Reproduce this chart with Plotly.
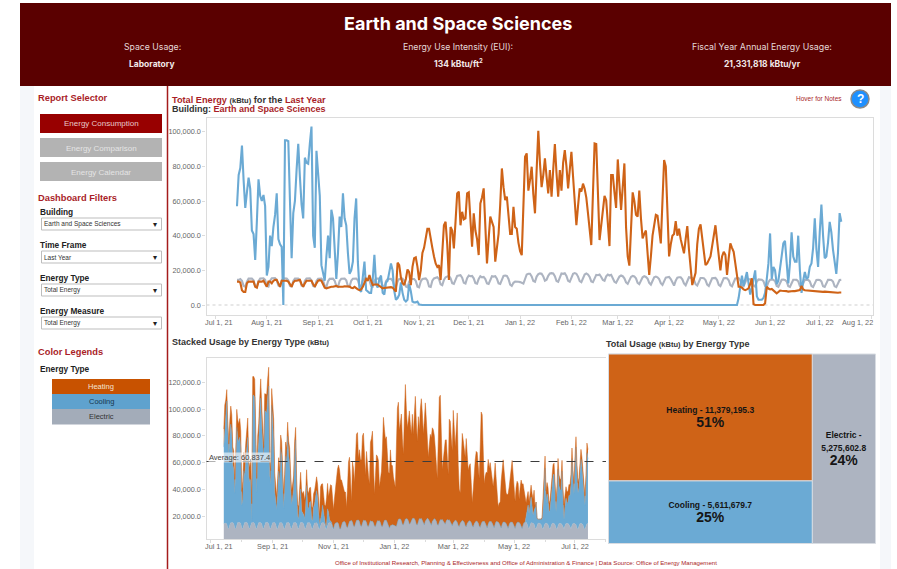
import pandas as pd
import plotly.graph_objects as go

START_DATE = "2021-07-14"

# daily readings, thousands of kBtu
cooling = [
57,75,79,92,72,56,65,73.5,67,43,41,26,48,72.5,63,60,63.5,57,17,22,
40,34,45,52,64.5,38,35,33.5,0,95,95,94.5,60,27,53,60,78,93,74,58,
50,85,82,81.5,93,103,40,33,89,75,63,23,18,14,28,40,27,55,50,30,
15,30,51,45,64.5,50,46,30,18,20,25,50,61.5,25,9,7.5,17,25,8.6,7.5,
7,7,15,29,12,10,15,17,7,6,13,14,19,24,20,8,3,4,6,13,
7,3,2,3,12,8,2,1.5,1.5,2,0.3,
0,0,0,0,0,0,0,0,0,0,0,0,0,0,0,0,0,0,0,0,
0,0,0,0,0,0,0,0,0,0,0,0,0,0,0,0,0,0,0,0,
0,0,0,0,0,0,0,0,0,0,0,0,0,0,0,0,0,0,0,0,
0,0,0,0,0,0,0,0,0,0,0,0,0,0,0,0,0,0,0,0,
0,0,0,0,0,0,0,0,0,0,0,0,0,0,0,0,0,0,0,0,
0,0,0,0,0,0,0,0,0,0,0,0,0,0,0,0,0,0,0,0,
0,0,0,0,0,0,0,0,0,0,0,0,0,0,0,0,0,0,0,0,
0,0,0,0,0,0,0,0,0,0,0,0,0,0,0,0,0,0,0,0,
0,0,0,0,0,0,0,0,0,0,0,0,0,0,0,0,0,0,0,0,
0,0,0,0,0,0,0,0,0,0,0,0,
4,10,17,11,16,19,12.5,6,10,15,20,5,3,3,3,4,7,15,24,41.3,
15,22,20,12,14,21,28,35.5,37,24,12.5,24,42,28,25,25,40,20,7,14,
19,15,16,22,24,33,50,32,22,42,58,40,27,28,36,48,42,32,25,18,
30,53,48,
]

heating = [
13.5,13.5,13,8.5,7.5,7.5,12.5,13.5,13.5,13.5,13.5,10.5,10,13.5,13.5,13.5,14,12,10.5,13.5,
13.5,12.5,14,14.5,14.5,12.5,10.5,14,14,14,14,13.5,11.5,10.5,13,14,14,14.3,14.5,12,
10.5,12.5,14,14,14,14,12,10.5,12.5,14,14.3,14,12,10,9.6,10,10.5,10.5,10.5,10.8,
11,10.5,10.5,10.3,10.5,10.8,10.8,10.7,10.6,10,9.8,10.5,9.5,9,8.6,9,10.5,12.5,15,14,
17.3,14,11.5,11.8,12,11.8,11,10.5,9.6,9.8,10,10.2,10,10.3,10,9,7.7,24.4,23,16,
12.5,11.5,15,20.5,19,11.5,22,27,27.5,22,14.4,20,30,33,40,44,44,37,33,28,
24,22,23,14.4,30,46,48,35,14.4,45,43,32.7,48,64.4,65.4,46,53.8,49.4,50,64.4,
65,50,33.6,52.9,43,38,28.8,58.6,62,67.3,45,24,38,51,48,45,25,33,41,58,
78.8,68,60.5,62.5,52,41,41,56.7,45,44,36,31,28.8,60,85.5,87.5,66,72,79.8,64,
52.9,78,100.5,82,68,75,84.6,74,64.4,77.9,62.5,78,92.9,76,62.5,77.9,66,82,89.4,80,
67.3,78,88.4,74,60,46,57,67.3,65.4,70,67,62,53,44,34.6,64,93.2,92.9,65,37.5,
46,55,62.9,60.5,47,34,75,75,65,56,84,68,54.8,68,81.7,45,28,22.7,46,65,
60,52,51,66,50,38.4,41,43,30,17.3,28,40,46,52,51.5,43,35.5,60,83.6,80,
52,28,35,40,41,48.4,40,44,38,33,29.8,38,45.5,32,20,11.5,15,18.6,35,44,
46.5,38,30,23,24,26,28,34,40,46,37,28,20,28,30.7,29,17.3,27,35.5,33,
30.7,24,17,10.5,10.5,10,9,8.6,9,9.6,12,15.4,0.5,0,0,0,0,0,0,1,
10.5,9.5,9,9.3,8.5,7.5,6.7,7.5,8.3,8.2,8.2,8.1,8,7.7,7.9,8,8.1,8,8.2,8,
8.6,11,9,8.5,8.4,8.3,8.2,8.1,8,7.9,7.7,7.8,7.9,7.7,7.6,7.7,7.6,7.5,7.4,7.2,
7.1,7.2,7,7.1,7.2,7.2,
]

electric = [
14.6,14.5,15,14,11,10.5,13.5,15.2, 15.2,15.3,14.2,11,10.5,13.8,15.3, 15.3,15.4,14.5,11,10.6,14,15.4,
15.4,15.5,14.3,11.2,10.8,14,15.4, 15.2,15.3,14.2,11,10.7,13.9,15.2, 15.3,15.2,14.4,11.1,10.8,14,15.3,
15.3,15.4,14.2,11,10.6,13.8,15.2, 15.2,15.3,14.1,10.9,10.5,13.7,15.1, 15.1,15.2,14,11,10.5,13.9,15.1,
15.2,15.3,14.2,11,10.6,14,15.2, 15.2,15.3,14.3,11.1,10.7,14,15.3, 15.3,15.2,14.2,11,10.6,13.9,15.2,
15.1,15.2,14,10.9,10.4,13.7,15, 15,15.1,14,10.8,10.3,13.6,15, 15.2,15.2,14,10.7,10.2,13.5,15,
15.1,15,13.9,10.6,10.2,13.6,15, 15.2,15.3,14.2,10.7,10.4,14,15.3, 15.8,16,15,12,11.4,14.5,16,
16.5,16.8,15.5,12.6,12.2,15,16.8, 17,17.2,15.8,12.8,12.4,15.5,17, 16.6,16.8,15.4,12.6,12.3,15,16.6,
16,16.2,15,12.5,12.2,14.8,16.6, 16.4,16.6,15.2,12.5,12.2,15,16.8,
17,16.8,15,11.8,11,12.8,13.5, 13.6,13.4,13.2,12.6,12.4,15,17.6,
18,18,16.5,13.8,13.4,16.4,17.8, 18.2,18,16.5,14,14.6,16.8,18.2, 18.4,18.2,16.6,13.8,13.4,16.4,18.2,
18,18.3,16.8,14,13.4,16.2,18, 18.4,18,16.4,13.8,13.2,16,17.6, 18.2,17.6,16.2,13.6,13.2,15.5,17.4,
17.2,17.6,16.2,14.4,14,16.5,17.5, 17,17.4,15.8,13.4,12.8,15,16.4, 17,16.6,15.4,13,12.2,14.8,16.2,
16.8,16.5,15.4,12.8,12,14.6,16, 16.6,16.2,15.2,12.8,11.8,14.4,16,
16.4,16,15,12.6,11.6,14.2,15.8, 16,16.2,15,12.8,11.2,14,15.8, 16,16,14.8,12.4,11.4,14.2,16,
15.8,15.6,14.6,12,11.2,13.8,15.6, 15.6,15.4,14.4,11.8,11,13.6,15.4, 15.5,15.6,14.4,11.6,10.9,13.6,15.4,
15.5,15.4,14.3,11.5,10.8,13.5,15.3,
15.4,15.5,14.2,11.4,10.8,13.5,15.2, 14.9,14.8,14,11.2,10.6,13.4,14.8, 14.8,14.6,13.8,11,10.5,13.2,14.6,
14.7,14.6,13.7,11,10.5,13.1,14.6, 14.7,14.5,13.6,10.9,10.5,13.1,14.6, 14.6,14.5,13.7,11,10.4,13,14.5,
14.6,14.5,13.6,11,10.4,13,14.5, 14.6,14.4,13.6,10.8,10.4,13,14.5, 14.5,14.4,13.5,10.8,10.3,13,14.4,
14.5,
]

dates = pd.date_range(START_DATE, periods=len(cooling), freq="D")

energy_types = ["Heating", "Cooling", "Electric"]
totals = [11379195.3, 5611679.7, 5275602.8]
shares = ["51%", "25%", "24%"]
average_usage = 60837.4

top_tick_dates = ["2021-07-01","2021-08-01","2021-09-01","2021-10-01","2021-11-01","2021-12-01","2022-01-01",
                  "2022-02-01","2022-03-01","2022-04-01","2022-05-01","2022-06-01","2022-07-01","2022-08-01"]
top_tick_labels = ["","Aug 1, 21","Sep 1, 21","Oct 1, 21","Nov 1, 21","Dec 1, 21","Jan 1, 22",
                   "Feb 1, 22","Mar 1, 22","Apr 1, 22","May 1, 22","Jun 1, 22","Jul 1, 22",""]
low_tick_dates = ["2021-07-01","2021-09-01","2021-11-01","2022-01-01","2022-03-01","2022-05-01","2022-07-01"]
low_tick_labels = ["","Sep 1, 21","Nov 1, 21","Jan 1, 22","Mar 1, 22","May 1, 22","Jul 1, 22"]
low_minor_dates = ["2021-08-01","2021-10-01","2021-12-01","2022-02-01","2022-04-01","2022-06-01","2022-08-01"]
top_y_ticks = [0, 20000, 40000, 60000, 80000, 100000]
low_y_ticks = [20000, 40000, 60000, 80000, 100000, 120000]

# styling
W, H = 897, 569
ORANGE, BLUE, GREY = "#cf6317", "#6baad4", "#adb4c1"
RED = "#a91e28"
SANS = "Liberation Sans"
HEAD = "Inter"
AXC = "#dcdcdc"
TICK = "#666666"
TICK_SIZE = 7.3


def px(x):
    return x / W


def py(y):
    return 1 - y / H


fig = go.Figure()

shapes = []
ann = []


def rect(x0, y0, x1, y1, fill, line=None, lw=1):
    shapes.append(dict(type="rect", xref="paper", yref="paper", x0=px(x0), x1=px(x1),
                       y0=py(y0), y1=py(y1), fillcolor=fill, layer="below",
                       line=dict(color=line or fill, width=lw if line else 0)))


def text(x, y, s, size=9, color="#222222", anchor="left", bold=False, family=SANS):
    ann.append(dict(xref="paper", yref="paper", x=px(x), y=py(y), text=f"<b>{s}</b>" if bold else s,
                    showarrow=False, xanchor=anchor, yanchor="middle",
                    font=dict(size=size, color=color, family=family),
                    borderpad=0, borderwidth=0))


# page
rect(20, 86, 34, H, "#f5f7fa")
rect(880, 86, 891, H, "#f5f7fa")
rect(20, 3, 891, 86, "#5a0000")
shapes.append(dict(type="line", xref="paper", yref="paper", x0=px(167.5), x1=px(167.5), y0=py(86), y1=0,
                   line=dict(color="#a51c1c", width=1.5), layer="below"))

# header
text(458, 23, "Earth and Space Sciences", 18, "#ffffff", "center", True, HEAD)
text(152, 47, "Space Usage:", 8.7, "#e4d8d8", "center", False, HEAD)
text(152, 63.5, "Laboratory", 8.5, "#f2e8e8", "center", True, HEAD)
text(458, 47, "Energy Use Intensity (EUI):", 8.7, "#e4d8d8", "center", False, HEAD)
text(458, 63, "134 kBtu/ft<sup>2</sup>", 8.5, "#f2e8e8", "center", True, HEAD)
text(762, 47, "Fiscal Year Annual Energy Usage:", 8.8, "#e4d8d8", "center", False, HEAD)
text(762, 63.5, "21,331,818 kBtu/yr", 8.5, "#f2e8e8", "center", True, HEAD)

# sidebar
text(38, 98, "Report Selector", 9.3, RED, bold=True)
rect(40, 114, 162, 133, "#980000")
rect(40, 138, 162, 157, "#b3b3b3")
rect(40, 162, 162, 181, "#b3b3b3")
text(101, 124, "Energy Consumption", 8, "#e8c8c8", "center")
text(101, 148, "Energy Comparison", 8, "#e4e4e4", "center")
text(101, 172, "Energy Calendar", 8, "#e4e4e4", "center")
text(38, 198, "Dashboard Filters", 9.3, RED, bold=True)
filters = [("Building", "Earth and Space Sciences", 212), ("Time Frame", "Last Year", 245),
           ("Energy Type", "Total Energy", 278), ("Energy Measure", "Total Energy", 311)]
for name, val, y in filters:
    text(40, y, name, 8.3, "#222222", bold=True)
    rect(41.5, y + 6, 161.5, y + 18, "#ffffff", "#bdbdbd", 1)
    text(43.5, y + 12, val, 6.5, "#333333")
    text(155, y + 12, "▾", 8, "#222222", "center")
text(38, 352, "Color Legends", 9.3, RED, bold=True)
text(40, 369, "Energy Type", 8.3, "#222222", bold=True)
rect(52, 379, 150, 394, "#c85200")
rect(52, 394, 150, 409, "#5fa2ce")
rect(52, 409, 150, 424.5, "#a3acb9")
text(101, 386.5, "Heating", 7.5, "#f4e4d4", "center")
text(101, 401.5, "Cooling", 7.5, "#17374f", "center")
text(101, 416.5, "Electric", 7.5, "#333333", "center")


# titles
def red(s):
    return f'<span style="color:{RED}">{s}</span>'


text(172, 99.5, f"{red('Total Energy')} <span style='font-size:7.5px'>(kBtu)</span> for the {red('Last Year')}", 9.2, "#333333", bold=True)
text(172, 109, f"Building: {red('Earth and Space Sciences')}", 9, "#333333", bold=True)
text(842, 99, "Hover for Notes", 6.5, RED, "right")
shapes.append(dict(type="circle", xref="paper", yref="paper", x0=px(851), x1=px(869), y0=py(108), y1=py(90),
                   fillcolor="#1e90ff", line=dict(color="#8a8a8a", width=1.5)))
text(860, 99, "?", 12, "#ffffff", "center", True)
text(172, 342, "Stacked Usage by Energy Type <span style='font-size:7.5px'>(kBtu)</span>", 9, "#333333", bold=True)
text(606, 344, "Total Usage <span style='font-size:7.5px'>(kBtu)</span> by Energy Type", 9, "#333333", bold=True)
text(525.5, 562.5, "Office of Institutional Research, Planning &amp; Effectiveness and Office of Administration &amp; Finance | Data Source: Office of Energy Management", 6.1, RED, "center")


def kbtu(series):
    return [v * 1000 for v in series]


# line chart
for name, series, col in [("Electric", electric, GREY), ("Cooling", cooling, BLUE), ("Heating", heating, ORANGE)]:
    fig.add_trace(go.Scatter(x=dates, y=kbtu(series), name=name, mode="lines",
                             line=dict(color=col, width=2.1), xaxis="x", yaxis="y"))

# stacked chart
for name, series, col in [("Electric", electric, GREY), ("Cooling", cooling, BLUE), ("Heating", heating, ORANGE)]:
    fig.add_trace(go.Scatter(x=dates, y=kbtu(series), name=name, mode="lines", stackgroup="one",
                             fillcolor=col, line=dict(color=col, width=0.5), xaxis="x2", yaxis="y2"))


# treemap: Heating and Cooling share the left column, Electric takes the right one
def cell_text(lines, share):
    body = "<br>".join(f"<span style='font-size:8.5px'><b>{s}</b></span>" for s in lines)
    return f"{body}<br><span style='font-size:14px'><b>{share}</b></span>"


GROUP = "Heating and Cooling"
labels_txt = [
    "",
    cell_text([f"{energy_types[0]} - {totals[0]:,.1f}"], shares[0]),
    cell_text([f"{energy_types[1]} - {totals[1]:,.1f}"], shares[1]),
    cell_text([f"{energy_types[2]} -", f"{totals[2]:,.1f}"], shares[2]),
]
fig.add_trace(go.Treemap(
    labels=[GROUP] + energy_types, parents=["", GROUP, GROUP, ""], values=[0] + totals, text=labels_txt,
    textinfo="text", textposition="middle center", sort=True, branchvalues="remainder",
    marker=dict(colors=["#d8dce2", ORANGE, BLUE, GREY], line=dict(color="#d8dce2", width=1),
                pad=dict(t=0, l=0, r=0, b=0)),
    textfont=dict(family=SANS, size=10.5, color="#151515"), hoverinfo="label+value",
    pathbar=dict(visible=False), tiling=dict(pad=0, packing="slice-dice"),
    domain=dict(x=[px(608.5), px(875.5)], y=[py(543.5), py(354)]),
))

axis_common = dict(showgrid=False, zeroline=False, showline=True, mirror=True, linecolor=AXC, linewidth=1.3,
                   ticks="outside", ticklen=3, tickwidth=1, tickcolor=AXC,
                   tickfont=dict(family=SANS, size=TICK_SIZE, color=TICK))

# y frames: top 118..315, bottom 358..539
top_y_range = [-5770, 107900]
low_y_range = [3000, 138100]
shapes.append(dict(type="line", xref="x domain", yref="y", x0=0, x1=1, y0=0, y1=0,
                   line=dict(color="#cfcfcf", width=1, dash="dot"), layer="below"))
shapes.append(dict(type="line", xref="x2 domain", yref="y2", x0=0, x1=1, y0=average_usage, y1=average_usage,
                   line=dict(color="#3c3c3c", width=1.2, dash="dash"), layer="above"))

ann.append(dict(xref="paper", yref="y2", x=px(207.5), y=average_usage, yshift=4.5, xanchor="left", yanchor="middle",
                text=f"Average: {average_usage:,.1f}", showarrow=False, bgcolor="rgba(255,255,255,0.6)",
                font=dict(family=SANS, size=7.5, color="#444444"), borderpad=0))

# edge tick labels, nudged into the frame as in the reference
tick_font = dict(family=SANS, size=TICK_SIZE, color=TICK)
ann.append(dict(xref="x", yref="paper", x="2021-07-01", y=py(322.5), xshift=4, xanchor="center", yanchor="middle",
                text="Jul 1, 21", showarrow=False, font=tick_font))
ann.append(dict(xref="x", yref="paper", x="2022-08-01", y=py(322.5), xshift=-14, xanchor="center", yanchor="middle",
                text="Aug 1, 22", showarrow=False, font=tick_font))
ann.append(dict(xref="x2", yref="paper", x="2021-07-01", y=py(546.5), xshift=8, xanchor="center", yanchor="middle",
                text="Jul 1, 21", showarrow=False, font=tick_font))

fig.update_layout(
    width=W, height=H, margin=dict(l=0, r=0, t=0, b=0), autosize=False,
    paper_bgcolor="#ffffff", plot_bgcolor="#ffffff", showlegend=False,
    shapes=shapes, annotations=ann,
    xaxis=dict(**axis_common, type="date", domain=[px(206.5), px(873)], anchor="y",
               range=["2021-06-25 14:00", "2022-08-02 04:00"], ticklabelstandoff=-3,
               tickvals=top_tick_dates, ticktext=top_tick_labels),
    yaxis=dict(**axis_common, domain=[py(315), py(118)], anchor="x", range=top_y_range,
               tickvals=top_y_ticks, tickformat=",.1f"),
    xaxis2=dict(**axis_common, type="date", domain=[px(206.5), px(606)], anchor="y2",
                range=["2021-06-26 16:00", "2022-08-01 02:00"], ticklabelstandoff=-3,
                tickvals=low_tick_dates, ticktext=low_tick_labels,
                minor=dict(ticks="outside", ticklen=2, tickcolor=AXC, tickvals=low_minor_dates)),
    yaxis2=dict({**axis_common, "mirror": False}, domain=[py(539), py(358)], anchor="x2", range=low_y_range,
                tickvals=low_y_ticks, tickformat=",.1f"),
)

assert len(cooling) == len(heating) == len(electric), (len(cooling), len(heating), len(electric))

fig.write_html("out.html", config=dict(displayModeBar=False), post_script="document.body.style.margin='0';")
